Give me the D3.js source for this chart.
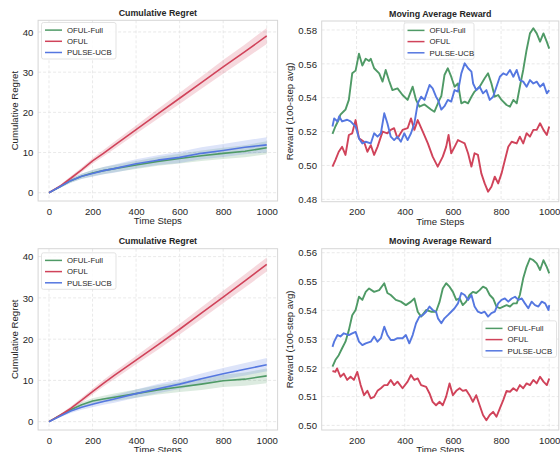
<!DOCTYPE html>
<html><head><meta charset="utf-8">
<script src="https://cdn.jsdelivr.net/npm/d3@7"></script>
<style>body{margin:0;background:#fff}svg{display:block}text{font-family:"Liberation Sans",Arial,sans-serif;fill:#262626}</style>
</head><body><svg id="c" width="560" height="452"></svg>
<script>
// ---------- DATA ----------
const seriesNames = ["OFUL-Full", "OFUL", "PULSE-UCB"];
const seriesColors = ["#4f9a66", "#d0435a", "#5577e0"];
const regretTicksX = [0, 200, 400, 600, 800, 1000];
const regretTicksY = [0, 10, 20, 30, 40];
const rewardTicksX = [200, 400, 600, 800, 1000];
const rewardTicksYTop = [0.48, 0.50, 0.52, 0.54, 0.56, 0.58];
const rewardTicksYBot = [0.50, 0.51, 0.52, 0.53, 0.54, 0.55, 0.56];

const regretSteps = [0, 50, 100, 150, 200, 250, 300, 400, 500, 600, 700, 800, 900, 1000];
// top-left panel
const tlFullMean = [0, 1.5, 3.0, 4.1, 4.9, 5.5, 6.0, 6.9, 7.8, 8.5, 9.2, 9.8, 10.3, 11.2];
const tlFullHalf = [0, 0.3, 0.5, 0.6, 0.8, 0.9, 0.9, 1.0, 1.1, 1.2, 1.3, 1.4, 1.5, 1.6];
const tlOfulMean = [0, 1.6, 3.6, 5.7, 7.9, 9.8, 11.8, 15.7, 19.6, 23.5, 27.4, 31.3, 35.1, 39.0];
const tlOfulHalf = [0, 0.3, 0.5, 0.6, 0.7, 0.8, 0.9, 1.0, 1.2, 1.4, 1.5, 1.7, 1.8, 2.0];
const tlPulseMean = [0, 1.5, 3.0, 4.1, 4.8, 5.5, 6.0, 7.2, 8.1, 8.8, 9.8, 10.5, 11.3, 11.9];
const tlPulseHalf = [0, 0.3, 0.5, 0.7, 0.8, 0.9, 1.0, 1.1, 1.2, 1.4, 1.5, 1.6, 1.7, 1.9];
// bottom-left panel
const blFullMean = [0, 1.5, 2.9, 4.1, 5.0, 5.5, 5.9, 6.8, 7.7, 8.4, 9.1, 9.9, 10.3, 11.1];
const blFullHalf = [0, 0.3, 0.5, 0.6, 0.7, 0.8, 0.9, 1.0, 1.1, 1.2, 1.4, 1.5, 1.6, 1.8];
const blOfulMean = [0, 1.5, 3.2, 5.2, 7.3, 9.3, 11.2, 14.9, 18.6, 22.4, 26.3, 30.2, 34.1, 38.1];
const blOfulHalf = [0, 0.3, 0.5, 0.6, 0.7, 0.8, 0.9, 1.0, 1.2, 1.3, 1.4, 1.5, 1.6, 1.7];
const blPulseMean = [0, 1.3, 2.6, 3.5, 4.2, 4.9, 5.5, 6.8, 8.0, 9.1, 10.4, 11.6, 12.7, 13.8];
const blPulseHalf = [0, 0.3, 0.5, 0.6, 0.7, 0.8, 0.9, 1.0, 1.1, 1.2, 1.3, 1.4, 1.5, 1.6];

// top-right moving averages
const trFullT = [100,112,126,133,147,154,168,182,196,210,224,238,252,259,273,294,308,321,335,349,370,391,412,433,447,461,482,509,523,544,552,565,579,593,607,621,635,649,663,677,690,711,732,746,760,774,788,802,823,837,851,865,878,892,906,920,934,948,962,976,990,1000];
const trFullV = [.5186,.523,.527,.530,.532,.533,.5387,.5544,.556,.566,.559,.563,.5617,.563,.5574,.5544,.5495,.5564,.550,.5445,.5455,.5416,.5387,.5465,.5387,.5347,.536,.533,.5317,.5387,.541,.5534,.5574,.5524,.5465,.5484,.5367,.5377,.5367,.5406,.5436,.5465,.5515,.5544,.5484,.5406,.5416,.5387,.5357,.5347,.5387,.5367,.5465,.5564,.5682,.578,.581,.578,.5731,.578,.573,.569];
const trOfulT = [100,112,126,140,154,168,182,196,210,231,245,259,273,287,308,328,342,356,370,391,412,426,440,454,475,496,516,537,558,572,582,593,607,621,635,649,663,677,690,704,718,732,746,760,774,788,802,816,830,844,865,878,892,906,920,934,948,962,976,990,1000];
const trOfulV = [.4993,.5032,.5081,.511,.5062,.518,.519,.5268,.516,.514,.5081,.512,.5062,.511,.520,.519,.521,.522,.516,.521,.522,.5278,.521,.5268,.520,.513,.5052,.4993,.5052,.511,.518,.5072,.511,.515,.514,.513,.5072,.4993,.5072,.5062,.4953,.4894,.4845,.4874,.4934,.4894,.4953,.5032,.511,.514,.513,.517,.513,.519,.517,.521,.521,.5249,.521,.518,.523];
const trPulseT = [100,107,121,128,140,161,175,196,210,224,238,259,273,287,301,315,328,342,356,370,384,398,412,426,440,454,468,482,503,516,530,538,552,565,579,593,607,621,635,649,663,677,684,697,711,725,739,753,767,781,795,809,823,837,851,865,878,892,906,920,934,948,962,976,990,1000];
const trPulseV = [.523,.5278,.526,.529,.526,.527,.526,.523,.516,.513,.514,.513,.519,.517,.519,.5308,.5249,.517,.515,.517,.514,.519,.515,.519,.5249,.5367,.5406,.5387,.5475,.5455,.5406,.5387,.533,.535,.5387,.5377,.5445,.5436,.5544,.5603,.5574,.5554,.5484,.5445,.5465,.5426,.5445,.5387,.5406,.5465,.5524,.5544,.5534,.5564,.5524,.5564,.5504,.5495,.5465,.5504,.5484,.5495,.5465,.5484,.5426,.5445];

// bottom-right moving averages
const brFullT = [100,112,126,140,154,168,182,196,210,224,238,252,273,294,315,328,342,363,384,405,426,440,454,468,489,509,530,545,558,572,586,600,614,628,641,655,669,683,697,711,725,739,753,767,781,795,809,823,837,851,865,878,892,906,920,934,948,962,976,990,1000];
const brFullV = [.5204,.5227,.5244,.5268,.5291,.5331,.5383,.5401,.5447,.5436,.5464,.5476,.5464,.547,.5494,.546,.5453,.5436,.543,.5418,.543,.5441,.5395,.5378,.5401,.5395,.5395,.543,.5476,.5494,.5482,.5464,.5436,.5441,.5418,.543,.5453,.5464,.546,.547,.5482,.5476,.5453,.5441,.5413,.5407,.5413,.5418,.5413,.5424,.5424,.5453,.5511,.5551,.558,.5574,.5563,.554,.5574,.555,.5528];
const brOfulT = [100,112,119,133,147,161,175,189,203,217,231,245,259,273,287,301,315,328,342,356,370,391,412,426,440,454,468,489,503,516,530,545,558,572,586,600,614,628,641,655,669,683,697,711,725,739,753,767,781,795,809,823,837,851,865,878,892,906,920,934,948,962,976,990,1000];
const brOfulV = [.5189,.5186,.5198,.5169,.518,.5158,.5169,.5158,.5186,.514,.5105,.512,.5094,.5099,.512,.5129,.514,.514,.5158,.514,.5152,.5129,.5152,.5175,.5158,.5163,.514,.5134,.5111,.5082,.507,.5082,.507,.51,.5146,.5105,.512,.5129,.512,.5123,.5105,.5082,.5105,.507,.5036,.5018,.5036,.5047,.503,.5059,.5088,.512,.5117,.5129,.512,.514,.5129,.5146,.514,.5158,.5146,.5169,.5152,.514,.5163];
const brPulseT = [100,107,121,133,147,168,182,196,210,224,238,259,273,287,301,315,328,342,356,370,391,405,419,433,447,461,475,489,503,516,530,538,552,565,579,593,607,621,635,649,663,677,690,704,718,732,746,760,774,788,802,816,830,844,858,872,886,899,913,927,941,955,969,983,997,1000];
const brPulseV = [.5273,.5291,.5314,.5309,.532,.5314,.532,.5325,.5291,.5279,.5285,.5291,.5309,.5291,.5303,.5343,.5314,.5297,.5297,.5303,.5303,.5314,.5285,.5314,.5355,.5378,.5383,.5395,.5413,.5401,.5395,.5372,.5355,.5372,.5383,.5395,.5407,.5424,.546,.5453,.5436,.5453,.5413,.5395,.539,.5395,.5378,.539,.5395,.5424,.5436,.5441,.543,.5441,.5447,.5436,.5441,.5424,.5407,.543,.5418,.5413,.543,.5424,.5401,.5418];

// ---------- DRAW ----------
const svg = d3.select("#c");
const FS_TICK = 9.6, FS_LABEL = 9.6, FS_TITLE = 8.9, FS_LEG = 7.8;

function panel(cfg) {
  const x = d3.scaleLinear().domain(cfg.xDomain).range([cfg.left, cfg.right]);
  const y = d3.scaleLinear().domain(cfg.yDomain).range([cfg.bottom, cfg.top]);
  const g = svg.append("g");
  // grid
  g.selectAll(".gx").data(cfg.xTicks).join("line")
    .attr("x1", d => x(d)).attr("x2", d => x(d)).attr("y1", cfg.top).attr("y2", cfg.bottom)
    .attr("stroke", "#e3e3e3").attr("stroke-width", 0.8).attr("stroke-dasharray", "3,2");
  g.selectAll(".gy").data(cfg.yTicks).join("line")
    .attr("y1", d => y(d)).attr("y2", d => y(d)).attr("x1", cfg.left).attr("x2", cfg.right)
    .attr("stroke", "#e3e3e3").attr("stroke-width", 0.8).attr("stroke-dasharray", "3,2");
  // axes via d3 axis (labels only, styled)
  const ax = g.append("g").attr("transform", `translate(0,${cfg.bottom})`)
    .call(d3.axisBottom(x).tickValues(cfg.xTicks).tickSize(0).tickPadding(0).tickFormat(d3.format("d")));
  ax.select(".domain").remove();
  ax.selectAll("text").attr("font-size", FS_TICK).attr("dy", null).attr("y", 13.5)
    .attr("font-family", '"Liberation Sans",Arial,sans-serif').attr("fill", "#262626");
  const ay = g.append("g").attr("transform", `translate(${cfg.left},0)`)
    .call(d3.axisLeft(y).tickValues(cfg.yTicks).tickSize(0).tickPadding(0).tickFormat(cfg.yFormat));
  ay.select(".domain").remove();
  ay.selectAll("text").attr("font-size", FS_TICK).attr("x", -4.7).attr("dy", "0.34em")
    .attr("font-family", '"Liberation Sans",Arial,sans-serif').attr("fill", "#262626");
  // series
  const clipId = "clip" + Math.round(cfg.left) + "_" + Math.round(cfg.top);
  svg.append("clipPath").attr("id", clipId).append("rect")
    .attr("x", cfg.left).attr("y", cfg.top).attr("width", cfg.right - cfg.left).attr("height", cfg.bottom - cfg.top);
  const plot = g.append("g").attr("clip-path", `url(#${clipId})`);
  cfg.series.forEach((s, i) => {
    const pts = s.t.map((t, k) => ({t, v: s.v[k], h: s.h ? s.h[k] : 0}));
    if (s.h) {
      plot.append("path").datum(pts)
        .attr("d", d3.area().x(d => x(d.t)).y0(d => y(d.v - d.h)).y1(d => y(d.v + d.h)))
        .attr("fill", seriesColors[i]).attr("fill-opacity", 0.2).attr("stroke", "none");
    }
  });
  cfg.series.forEach((s, i) => {
    const pts = s.t.map((t, k) => ({t, v: s.v[k]}));
    plot.append("path").datum(pts)
      .attr("d", d3.line().x(d => x(d.t)).y(d => y(d.v)))
      .attr("fill", "none").attr("stroke", seriesColors[i]).attr("stroke-width", cfg.lw)
      .attr("stroke-linejoin", "round");
  });
  // frame
  g.append("rect").attr("x", cfg.left).attr("y", cfg.top)
    .attr("width", cfg.right - cfg.left).attr("height", cfg.bottom - cfg.top)
    .attr("fill", "none").attr("stroke", "#d6d6d6").attr("stroke-width", 1);
  // title
  g.append("text").attr("x", (cfg.left + cfg.right) / 2).attr("y", cfg.top - 4.5)
    .attr("text-anchor", "middle").attr("font-size", FS_TITLE).attr("font-weight", "bold").text(cfg.title);
  // x label
  g.append("text").attr("x", (cfg.left + cfg.right) / 2).attr("y", cfg.bottom + 23.3)
    .attr("text-anchor", "middle").attr("font-size", FS_LABEL).text("Time Steps");
  // y label
  g.append("text").attr("transform", `translate(${cfg.ylabelX},${(cfg.top + cfg.bottom) / 2}) rotate(-90)`)
    .attr("text-anchor", "middle").attr("dy", "0.35em").attr("font-size", FS_LABEL).text(cfg.ylabel);
  // legend
  const L = cfg.legend;
  const lg = g.append("g");
  lg.append("rect").attr("x", L.x).attr("y", L.y).attr("width", L.w).attr("height", 36.5)
    .attr("rx", 2).attr("fill", "#fff").attr("fill-opacity", 0.85).attr("stroke", "#dcdcdc").attr("stroke-width", 0.8);
  seriesNames.forEach((n, i) => {
    const cy = L.y + 7.6 + i * 11.2;
    lg.append("line").attr("x1", L.x + 3.5).attr("x2", L.x + 20.5).attr("y1", cy).attr("y2", cy)
      .attr("stroke", seriesColors[i]).attr("stroke-width", 1.5);
    lg.append("text").attr("x", L.x + 25.5).attr("y", cy).attr("dy", "0.35em")
      .attr("font-size", FS_LEG).text(n);
  });
}

const fmt2 = d3.format(".2f");
const fmtD = d3.format("d");

panel({
  left: 38.1, right: 277.6, top: 20.3, bottom: 201, xDomain: [-50, 1050], yDomain: [-2.06, 42.9],
  xTicks: regretTicksX, yTicks: regretTicksY, yFormat: fmtD, title: "Cumulative Regret",
  ylabel: "Cumulative Regret", ylabelX: 15, lw: 1.6,
  legend: {x: 41.5, y: 22.5, w: 74.5},
  series: [
    {t: regretSteps, v: tlFullMean, h: tlFullHalf},
    {t: regretSteps, v: tlOfulMean, h: tlOfulHalf},
    {t: regretSteps, v: tlPulseMean, h: tlPulseHalf}
  ]
});
panel({
  left: 321.7, right: 558.8, top: 21, bottom: 201.7, xDomain: [55.25, 1039.75], yDomain: [0.4786, 0.5853],
  xTicks: rewardTicksX, yTicks: rewardTicksYTop, yFormat: fmt2, title: "Moving Average Reward",
  ylabel: "Reward (100-step avg)", ylabelX: 290, lw: 1.9,
  legend: {x: 404, y: 22.8, w: 70},
  series: [
    {t: trFullT, v: trFullV},
    {t: trOfulT, v: trOfulV},
    {t: trPulseT, v: trPulseV}
  ]
});
panel({
  left: 38.1, right: 277.6, top: 248.7, bottom: 430, xDomain: [-50, 1050], yDomain: [-2.02, 41.92],
  xTicks: regretTicksX, yTicks: regretTicksY, yFormat: fmtD, title: "Cumulative Regret",
  ylabel: "Cumulative Regret", ylabelX: 15, lw: 1.6,
  legend: {x: 41.5, y: 252.8, w: 74.5},
  series: [
    {t: regretSteps, v: blFullMean, h: blFullHalf},
    {t: regretSteps, v: blOfulMean, h: blOfulHalf},
    {t: regretSteps, v: blPulseMean, h: blPulseHalf}
  ]
});
panel({
  left: 321.7, right: 558.8, top: 248.7, bottom: 430, xDomain: [55.25, 1039.75], yDomain: [0.4984, 0.5614],
  xTicks: rewardTicksX, yTicks: rewardTicksYBot, yFormat: fmt2, title: "Moving Average Reward",
  ylabel: "Reward (100-step avg)", ylabelX: 290, lw: 1.9,
  legend: {x: 482, y: 320.8, w: 74.5},
  series: [
    {t: brFullT, v: brFullV},
    {t: brOfulT, v: brOfulV},
    {t: brPulseT, v: brPulseV}
  ]
});
</script></body></html>
